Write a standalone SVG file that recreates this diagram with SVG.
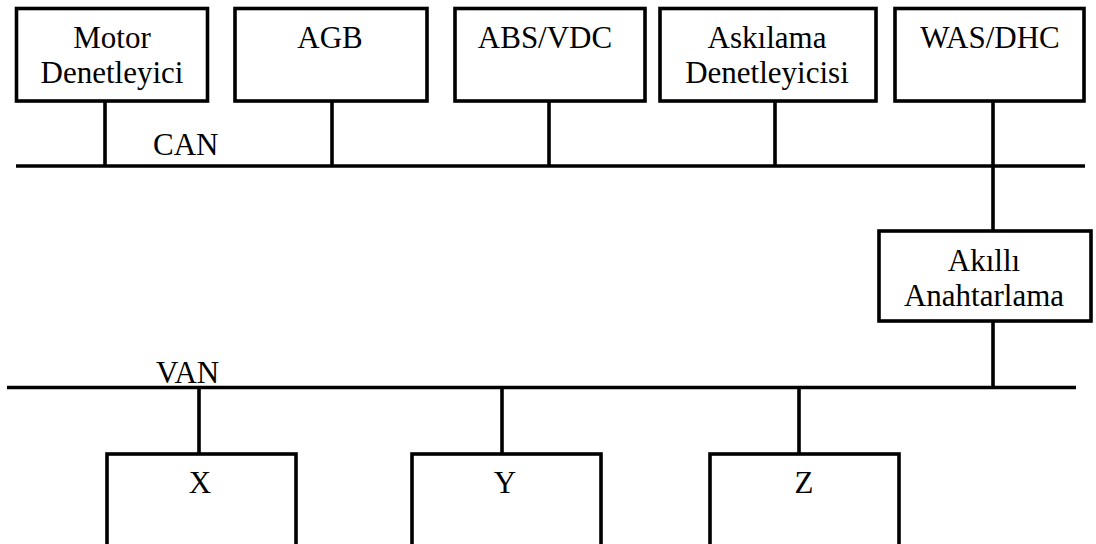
<svg xmlns="http://www.w3.org/2000/svg" width="1096" height="544" viewBox="0 0 1096 544">
  <style>
    .box { fill: #ffffff; stroke: #000000; stroke-width: 3.6; }
    .wire { stroke: #000000; stroke-width: 3.6; fill: none; stroke-linecap: butt; }
  </style>
  <rect width="1096" height="544" fill="#ffffff"/>

  <g font-family="Liberation Serif" font-size="31" fill="#000000">
    <!-- CAN and VAN buses with their drops -->
    <g id="connectors">
      <line class="wire" x1="16" y1="166" x2="1085" y2="166"/>
      <line class="wire" x1="105" y1="101" x2="105" y2="166"/>
      <line class="wire" x1="332" y1="101" x2="332" y2="166"/>
      <line class="wire" x1="549" y1="101" x2="549" y2="166"/>
      <line class="wire" x1="775" y1="101" x2="775" y2="166"/>
      <line class="wire" x1="993" y1="101" x2="993" y2="230"/>
      <line class="wire" x1="993" y1="321" x2="993" y2="387"/>
      <line class="wire" x1="7" y1="387.5" x2="1076" y2="387.5"/>
      <line class="wire" x1="199" y1="387" x2="199" y2="453"/>
      <line class="wire" x1="502" y1="387" x2="502" y2="453"/>
      <line class="wire" x1="799" y1="387" x2="799" y2="453"/>
      <text x="153" y="155">CAN</text>
      <text x="156" y="383">VAN</text>
    </g>

    <g id="motor" text-anchor="middle">
      <rect class="box" x="16.5" y="8.5" width="191" height="92.5"/>
      <text x="112" y="48">Motor</text>
      <text x="112" y="83">Denetleyici</text>
    </g>
    <g id="agb" text-anchor="middle">
      <rect class="box" x="235" y="8.5" width="192" height="92.5"/>
      <text x="330" y="48">AGB</text>
    </g>
    <g id="abs-vdc" text-anchor="middle">
      <rect class="box" x="455" y="8.5" width="190" height="92.5"/>
      <text x="545" y="48">ABS/VDC</text>
    </g>
    <g id="askilama" text-anchor="middle">
      <rect class="box" x="660" y="8.5" width="216" height="92.5"/>
      <text x="767" y="48">Askılama</text>
      <text x="767" y="83">Denetleyicisi</text>
    </g>
    <g id="was-dhc" text-anchor="middle">
      <rect class="box" x="895" y="8.5" width="189" height="92.5"/>
      <text x="990" y="48">WAS/DHC</text>
    </g>
    <g id="akilli-anahtarlama" text-anchor="middle">
      <rect class="box" x="879" y="231" width="212" height="90"/>
      <text x="984" y="271">Akıllı</text>
      <text x="984" y="306">Anahtarlama</text>
    </g>
    <g id="x" text-anchor="middle">
      <rect class="box" x="107" y="454" width="189" height="120"/>
      <text x="200" y="493">X</text>
    </g>
    <g id="y" text-anchor="middle">
      <rect class="box" x="412" y="454" width="189" height="120"/>
      <text x="505" y="493">Y</text>
    </g>
    <g id="z" text-anchor="middle">
      <rect class="box" x="710" y="454" width="189" height="120"/>
      <text x="804" y="493">Z</text>
    </g>
  </g>
</svg>
